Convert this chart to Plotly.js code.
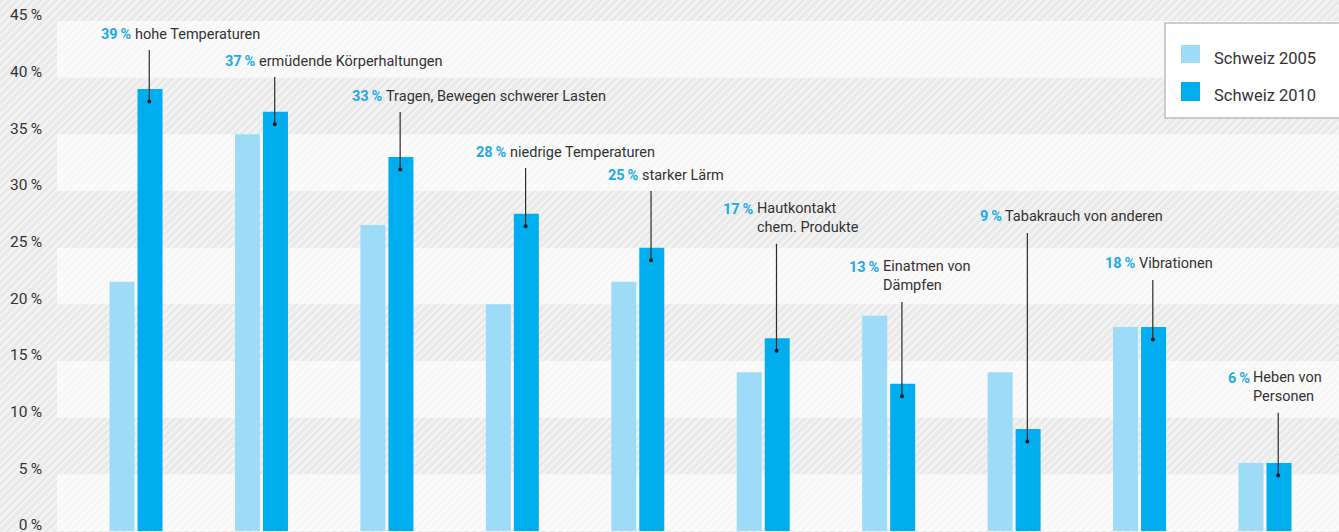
<!DOCTYPE html>
<html><head><meta charset="utf-8">
<script src="https://cdn.plot.ly/plotly-3.0.1.min.js"></script>
<style>
html,body{margin:0;padding:0;width:1339px;height:532px;overflow:hidden;
background-color:#ebebeb;
background-image:repeating-linear-gradient(135deg,#e9e9e9 0px,#e9e9e9 3px,#f3f3f3 3px,#f3f3f3 5.5px);}
#chart{width:1339px;height:532px;}
</style></head><body><div id="chart"></div>
<script>
// ---- data ----
const categories = ["hohe Temperaturen","ermüdende Körperhaltungen","Tragen, Bewegen schwerer Lasten","niedrige Temperaturen","starker Lärm","Hautkontakt chem. Produkte","Einatmen von Dämpfen","Tabakrauch von anderen","Vibrationen","Heben von Personen"];
const labelLines = [["hohe Temperaturen"],["ermüdende Körperhaltungen"],["Tragen, Bewegen schwerer Lasten"],["niedrige Temperaturen"],["starker Lärm"],["Hautkontakt","chem. Produkte"],["Einatmen von","Dämpfen"],["Tabakrauch von anderen"],["Vibrationen"],["Heben von","Personen"]];
const series2005 = [22,35,27,20,22,14,19,14,18,6];
const series2010 = [39,37,33,28,25,17,13,9,18,6];
const seriesNames = ["Schweiz 2005","Schweiz 2010"];
const yTicks = [0,5,10,15,20,25,30,35,40,45];

// ---- label placement (layout, not data) ----
const labelFirstLineY = [43.85,41.47,38.38,33.44,31.41,28.41,23.29,27.71,23.56,13.50];
const labelShiftPx = [-15,-16,-15,-16,-10,-20,-20,-23,-15,-26];

const FONT = "Roboto, 'Noto Sans', sans-serif";
const C05 = "#9ddbf6", C10 = "#00aeef", BLUE_TXT = "#1aabe8", TXT = "#333333";
const YMAX = 45, PLOT_H = 510, PX = PLOT_H / YMAX;
const BARGAP = 0.5536, GROUPGAP = 0.107;
const dOff = (1 - BARGAP) / 4;
const LINE_H = 18.85;
const idx = categories.map((_, i) => i);

const traces = [
  {type:"bar", x: idx, y: series2005, name: seriesNames[0], marker:{color:C05}, customdata: categories, showlegend:false},
  {type:"bar", x: idx, y: series2010, name: seriesNames[1], marker:{color:C10}, customdata: categories, showlegend:false}
];

// leader lines and dots
const lx = [], ly = [], dx = [], dy = [];
idx.forEach(i => {
  const xd = i + dOff - 0.006;
  const n = labelLines[i].length;
  const dotY = series2010[i] - 1.1;
  const topY = labelFirstLineY[i] - ((n - 1) * LINE_H + 16) / PX;
  lx.push(xd, xd, null); ly.push(dotY, topY, null);
  dx.push(xd); dy.push(dotY);
});
traces.push({type:"scatter", mode:"lines", x: lx, y: ly, line:{color:"#2b2b2b", width:1.2}, showlegend:false, hoverinfo:"skip"});
traces.push({type:"scatter", mode:"markers", x: dx, y: dy, marker:{color:"#1a1a1a", size:4}, showlegend:false, hoverinfo:"skip"});

const annotations = [];
idx.forEach(i => {
  const xd = i + dOff;
  const n = labelLines[i].length;
  annotations.push({x: xd, y: labelFirstLineY[i], xref:"x", yref:"y", showarrow:false,
    text: "<b>" + series2010[i] + "\u2009%</b>", font:{family:FONT, size:14.5, color:BLUE_TXT},
    xanchor:"right", yanchor:"middle", xshift: labelShiftPx[i] - 1});
  annotations.push({x: xd, y: labelFirstLineY[i], xref:"x", yref:"y", showarrow:false,
    text: labelLines[i].join("<br>"), align:"left", font:{family:FONT, size:14.5, color:TXT},
    xanchor:"left", yanchor:"middle", xshift: labelShiftPx[i] - 2, yshift: -(n - 1) * LINE_H / 2});
});
// custom legend text
annotations.push({x:1, y:1, xref:"paper", yref:"paper", xanchor:"left", yanchor:"middle", xshift:-127, yshift:-37,
  text: seriesNames[0], showarrow:false, font:{family:FONT, size:16.5, color:TXT}});
annotations.push({x:1, y:1, xref:"paper", yref:"paper", xanchor:"left", yanchor:"middle", xshift:-127, yshift:-74,
  text: seriesNames[1], showarrow:false, font:{family:FONT, size:16.5, color:TXT}});

const shapes = [];
for (let b = 0; b < YMAX; b += 10) {
  shapes.push({type:"rect", xref:"paper", yref:"y", x0:0, x1:1, y0:b, y1:b+5, fillcolor:"rgba(255,255,255,0.62)", line:{width:0}, layer:"below"});
}
// legend box and swatches
shapes.push({type:"rect", xref:"paper", yref:"paper", xsizemode:"pixel", ysizemode:"pixel", xanchor:1, yanchor:1,
  x0:-174, x1:10, y0:-97, y1:-2, fillcolor:"#ffffff", line:{color:"#bdbdbd", width:1.5}, layer:"above"});
shapes.push({type:"rect", xref:"paper", yref:"paper", xsizemode:"pixel", ysizemode:"pixel", xanchor:1, yanchor:1,
  x0:-158, x1:-139, y0:-42, y1:-24, fillcolor:C05, line:{width:0}, layer:"above"});
shapes.push({type:"rect", xref:"paper", yref:"paper", xsizemode:"pixel", ysizemode:"pixel", xanchor:1, yanchor:1,
  x0:-158, x1:-139, y0:-80, y1:-61, fillcolor:C10, line:{width:0}, layer:"above"});

const layout = {
  width:1339, height:532,
  margin:{l:57, r:0, t:21, b:1, pad:0},
  paper_bgcolor:"rgba(0,0,0,0)", plot_bgcolor:"rgba(0,0,0,0)",
  barmode:"group", bargap:BARGAP, bargroupgap:GROUPGAP,
  showlegend:false, hovermode:false,
  font:{family:FONT, color:TXT},
  xaxis:{range:[-0.63, 9.59], showticklabels:false, showgrid:false, zeroline:false, showline:false, fixedrange:true},
  yaxis:{range:[0, YMAX], tickvals:yTicks, ticktext:yTicks.map(v => v + "\u2009%"), showgrid:false, zeroline:false, showline:false,
    ticks:"", ticklabelstandoff:14, ticklabelshift:-6, ticklabeloverflow:"allow", tickfont:{family:FONT, size:15.5, color:TXT}, fixedrange:true},
  shapes: shapes,
  annotations: annotations
};
Plotly.newPlot("chart", traces, layout, {displayModeBar:false, staticPlot:true});
</script></body></html>
